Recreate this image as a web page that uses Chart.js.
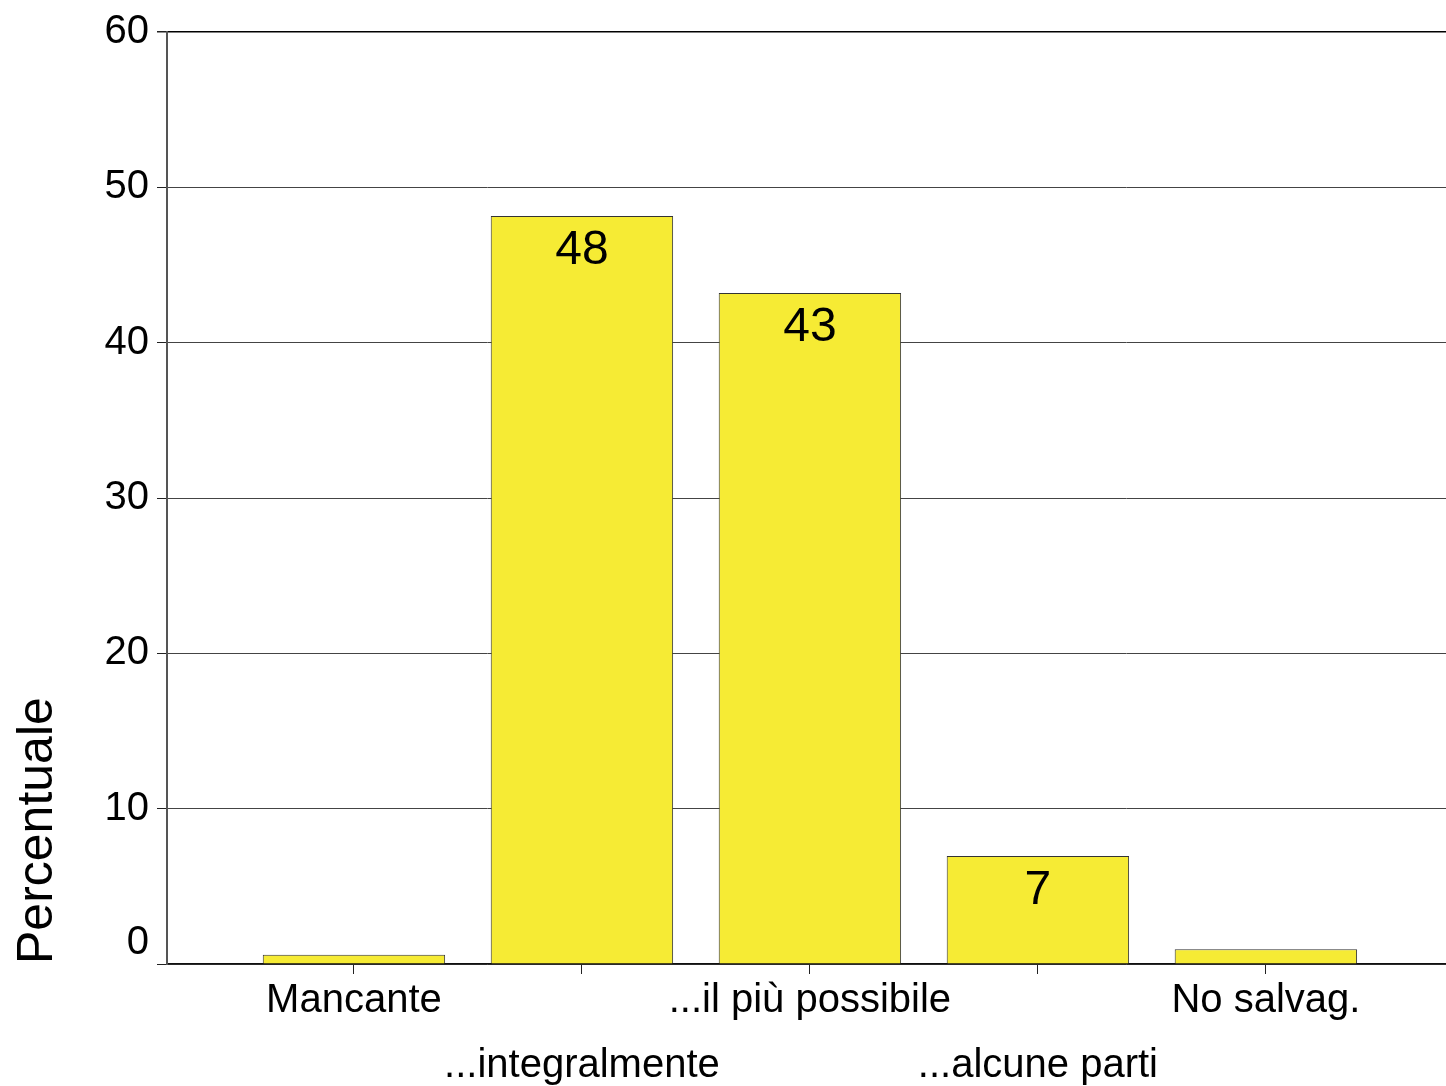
<!DOCTYPE html>
<html>
<head>
<meta charset="utf-8">
<script src="https://cdn.jsdelivr.net/npm/chart.js@4/dist/chart.umd.min.js"></script>
<style>
  html, body { margin: 0; padding: 0; background: #fff; }
  #wrap { width: 1446px; height: 1086px; }
</style>
</head>
<body>
<div id="wrap"><canvas id="chart" width="1446" height="1086"></canvas></div>
<script>
/* Data */
const categories = ['Mancante', '...integralmente', '...il più possibile', '...alcune parti', 'No salvag.'];
const positions = [1, 2, 3, 4, 5];
const percentages = [0.6, 48.15, 43.2, 6.95, 0.95];
const yTicks = [0, 10, 20, 30, 40, 50, 60];
const yTitle = 'Percentuale';

((document, Chart) => {
  const FONT = "'Liberation Sans', Arial, sans-serif";

  const barLabels = {
    id: 'barLabels',
    afterDatasetsDraw: (chart) => {
      const ctx = chart.ctx;
      const meta = chart.getDatasetMeta(0);
      ctx.save();
      ctx.font = `48px ${FONT}`;
      ctx.fillStyle = '#000';
      ctx.textAlign = 'center';
      ctx.textBaseline = 'middle';
      meta.data.forEach((bar, i) => {
        const v = percentages[i];
        if (v < 5) return;
        ctx.fillText(String(Math.round(v)), bar.x, bar.y + 35);
      });
      ctx.restore();
    },
  };

  // the zero label sits a bit above the axis, like the original
  const zeroLabel = {
    id: 'zeroLabel',
    afterDraw: (chart) => {
      const ctx = chart.ctx;
      const y = chart.scales.y;
      ctx.save();
      ctx.font = `40px ${FONT}`;
      ctx.fillStyle = '#000';
      ctx.textAlign = 'right';
      ctx.textBaseline = 'middle';
      ctx.fillText('0', y.right - 18, y.getPixelForValue(0) - 21);
      ctx.restore();
    },
  };

  const init = () => {
    const canvas = document.getElementById('chart');
    new Chart(canvas, {
      type: 'bar',
      data: {
        datasets: [{
          data: positions.map((x, i) => ({ x, y: percentages[i] })),
          backgroundColor: '#f6eb34',
          borderColor: '#333',
          borderWidth: 1,
          barPercentage: 0.8,
          categoryPercentage: 1,
        }],
      },
      options: {
        responsive: false,
        animation: false,
        layout: { padding: { top: 32, right: 0, bottom: 0, left: 0 } },
        plugins: {
          legend: { display: false },
          tooltip: { enabled: false },
        },
        scales: {
          x: {
            type: 'linear',
            min: 0.18,
            max: 5.79,
            offset: false,
            afterBuildTicks: (scale) => {
              scale.ticks = positions.map((value) => ({ value }));
            },
            afterFit: (scale) => { scale.height = 122; },
            grid: {
              offset: false,
              drawOnChartArea: false,
              drawTicks: true,
              tickLength: 10,
              tickColor: '#222',
            },
            border: { display: true, color: '#111', width: 1.5 },
            ticks: {
              autoSkip: false,
              maxRotation: 0,
              padding: -5,
              color: '#000',
              font: { family: FONT, size: 40, lineHeight: 1.62 },
              callback: (value) => {
                const i = positions.indexOf(value);
                if (i < 0) return '';
                return i % 2 === 0 ? categories[i] : ['', categories[i]];
              },
            },
          },
          y: {
            min: 0,
            max: 60,
            afterBuildTicks: (scale) => {
              scale.ticks = yTicks.map((value) => ({ value }));
            },
            afterFit: (scale) => { scale.width = 167; },
            grid: {
              color: (c) => (c.tick && c.tick.value === 60 ? '#000' : '#444'),
              lineWidth: (c) => (c.tick && c.tick.value === 60 ? 1.5 : 1),
              drawTicks: true,
              tickLength: 10,
              tickColor: '#222',
            },
            border: { display: true, color: '#555', width: 2 },
            ticks: {
              padding: 8,
              color: '#000',
              font: { family: FONT, size: 40 },
              callback: (value) => (value === 0 ? '' : String(value)),
            },
            title: {
              display: true,
              text: yTitle,
              align: 'start',
              color: '#000',
              font: { family: FONT, size: 50 },
              padding: { top: 8, bottom: 0 },
            },
          },
        },
      },
      plugins: [barLabels, zeroLabel],
    });
  };

  init();
})(document, Chart);
</script>
</body>
</html>
